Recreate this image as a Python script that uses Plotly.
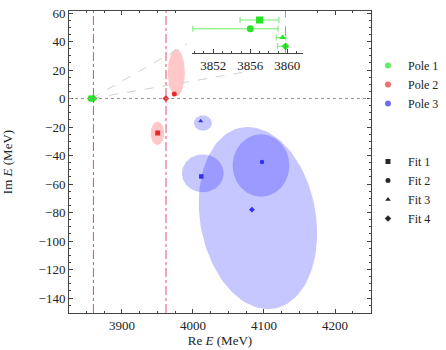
import numpy as np
import plotly.graph_objects as go

FONT = "Liberation Serif, Times New Roman, serif"

fits = ["Fit 1", "Fit 2", "Fit 3", "Fit 4"]
symbols = ["square", "circle", "triangle-up", "diamond"]
poles = ["Pole 1", "Pole 2", "Pole 3"]

# Pole 1 (green) -- Re, Im per fit, Re uncertainty (inset)
p1_re = [3857.0, 3856.0, 3859.5, 3859.8]
p1_im = [0.0, 0.0, 0.0, 0.0]
p1_err_minus = [2.1, 6.2, 0.7, 0.85]
p1_err_plus = [2.1, 3.0, 0.35, 0.15]
fit_index = [1, 2, 3, 4]

# Pole 2 (red)
p2_re = [3950.3, 3973.7, 3961.5, 3961.8]
p2_im = [-24.2, 3.2, 0.4, 0.0]
# Pole 3 (blue)
p3_re = [4011.7, 4097.2, 4010.8, 4083.0]
p3_im = [-54.7, -44.6, -15.8, -78.0]

# uncertainty regions: centre Re, centre Im, half-width (Re), half-height (Im), tilt
p2_ell_cre = [3950.0, 3976.5]
p2_ell_cim = [-24.4, 18.2]
p2_ell_a = [9.6, 12.0]
p2_ell_b = [8.2, 16.5]
p2_ell_tilt = [0.0, 0.0]

p3_ell_cre = [4013.8, 4095.8, 4014.0, 4091.5]
p3_ell_cim = [-52.5, -47.0, -17.2, -83.9]
p3_ell_a = [29.4, 39.9, 12.7, 82.2]
p3_ell_b = [13.3, 21.9, 5.4, 63.9]
p3_ell_tilt = [0.0, 0.0, 0.0, -0.22]

thresholds = [3859.8, 3962.0]

# zoom connector end points (data coords of main axes)
conn_re = [3991.5, 4073.2]
conn_im = [38.2, 18.6]

GREEN = "rgb(40,228,40)"
GREEN_ERR = "rgb(110,235,110)"
RED = "rgb(235,40,40)"
BLUE = "rgb(50,50,235)"
RED_FILL = "rgba(255,0,0,0.22)"
BLUE_FILL = "rgba(0,0,255,0.22)"

fig = go.Figure()

t = np.linspace(0, 2 * np.pi, 120)


def add_ellipses(cre, cim, a, b, tilt, color):
    for i in range(len(cre)):
        xs = cre[i] + a[i] * np.cos(t) + tilt[i] * b[i] * np.sin(t)
        ys = cim[i] + b[i] * np.sin(t)
        fig.add_trace(go.Scatter(x=xs, y=ys, mode="lines", fill="toself",
                                 fillcolor=color, line=dict(width=0),
                                 showlegend=False, hoverinfo="skip"))


add_ellipses(p2_ell_cre, p2_ell_cim, p2_ell_a, p2_ell_b, p2_ell_tilt, RED_FILL)
add_ellipses(p3_ell_cre, p3_ell_cim, p3_ell_a, p3_ell_b, p3_ell_tilt, BLUE_FILL)

# connector lines
for i in range(len(conn_re)):
    fig.add_trace(go.Scatter(x=[p1_re[0], conn_re[i]], y=[p1_im[0], conn_im[i]],
                             mode="lines", line=dict(color="rgb(210,210,210)", width=1, dash="dash"),
                             showlegend=False, hoverinfo="skip"))

for i in range(4):
    fig.add_trace(go.Scatter(x=[p1_re[i]], y=[p1_im[i]], mode="markers",
                             marker=dict(color=GREEN, symbol=symbols[i], size=6),
                             showlegend=False))
    fig.add_trace(go.Scatter(x=[p2_re[i]], y=[p2_im[i]], mode="markers",
                             marker=dict(color=RED, symbol=symbols[i], size=5),
                             showlegend=False))
    fig.add_trace(go.Scatter(x=[p3_re[i]], y=[p3_im[i]], mode="markers",
                             marker=dict(color=BLUE, symbol=symbols[i], size=4.5),
                             showlegend=False))

# inset
inset_sizes = [7, 7, 6, 6]
for i in range(4):
    fig.add_trace(go.Scatter(x=[p1_re[i]], y=[fit_index[i]], mode="markers",
                             xaxis="x2", yaxis="y2",
                             marker=dict(color=GREEN, symbol=symbols[i], size=inset_sizes[i]),
                             error_x=dict(type="data", symmetric=False,
                                          array=[p1_err_plus[i]], arrayminus=[p1_err_minus[i]],
                                          color=GREEN_ERR, thickness=1, width=3),
                             showlegend=False))

# legend entries
pole_colors = ["rgb(100,235,100)", "rgb(240,110,110)", "rgb(110,110,240)"]
for i in range(3):
    fig.add_trace(go.Scatter(x=[None], y=[None], mode="markers", name=poles[i],
                             marker=dict(color=pole_colors[i], symbol="circle", size=6),
                             legend="legend"))
for i in range(4):
    fig.add_trace(go.Scatter(x=[None], y=[None], mode="markers", name=fits[i],
                             marker=dict(color="rgb(40,40,40)", symbol=symbols[i], size=5),
                             legend="legend2"))

shapes = []
shapes.append(dict(type="line", xref="x domain", yref="y", x0=0, x1=1, y0=0, y1=0,
                   line=dict(color="rgb(150,150,150)", width=1, dash="dot")))
for th in thresholds:
    shapes.append(dict(type="line", xref="x", yref="y domain", x0=th, x1=th, y0=0, y1=1,
                       line=dict(color="rgb(220,80,115)", width=1, dash="dashdot")))
shapes.append(dict(type="line", xref="x2", yref="y2 domain", x0=thresholds[0], x1=thresholds[0],
                   y0=0, y1=1, line=dict(color="rgb(220,80,115)", width=0.8, dash="dash")))

axis_common = dict(ticks="inside", ticklen=4, tickcolor="#444", showline=True,
                   linecolor="#444", linewidth=1, showgrid=False, zeroline=False,
                   tickfont=dict(family=FONT, size=13, color="#222"))

fig.update_layout(
    width=446, height=350,
    margin=dict(l=69, r=75, t=11, b=37, autoexpand=False),
    paper_bgcolor="white", plot_bgcolor="white",
    font=dict(family=FONT, size=13, color="#222"),
    shapes=shapes,
    xaxis=dict(range=[3825.4, 4250.7], tick0=3900, dtick=100, mirror="ticks",
               minor=dict(dtick=25, ticklen=2, ticks="inside", tickcolor="#444"),
               title=dict(text="Re <i>E</i> (MeV)", font=dict(family=FONT, size=13), standoff=0),
               **axis_common),
    yaxis=dict(range=[-150.5, 61.4], tick0=0, dtick=20, mirror="ticks",
               minor=dict(dtick=5, ticklen=2, ticks="inside", tickcolor="#444"),
               title=dict(text="Im <i>E</i> (MeV)", font=dict(family=FONT, size=13), standoff=24),
               **axis_common),
    xaxis2=dict(domain=[0.407, 0.775], anchor="y2", range=[3849.7, 3861.7],
                tick0=3852, dtick=4,
                minor=dict(dtick=1, ticklen=2, ticks="inside", tickcolor="#444"),
                **axis_common),
    yaxis2=dict(domain=[0.860, 1.0], anchor="x2", range=[4.8, -0.03], visible=False),
    legend=dict(x=0.99, y=(313 - 51) / 302, xanchor="left", yanchor="top",
                bgcolor="rgba(0,0,0,0)", font=dict(family=FONT, size=12),
                tracegroupgap=0),
    legend2=dict(x=0.99, y=(313 - 147) / 302, xanchor="left", yanchor="top",
                 bgcolor="rgba(0,0,0,0)", font=dict(family=FONT, size=12),
                 tracegroupgap=0),
)

fig.write_html("out.html", config={"displayModeBar": False},
               post_script="document.body.style.margin='0px';document.body.style.overflow='hidden';")
